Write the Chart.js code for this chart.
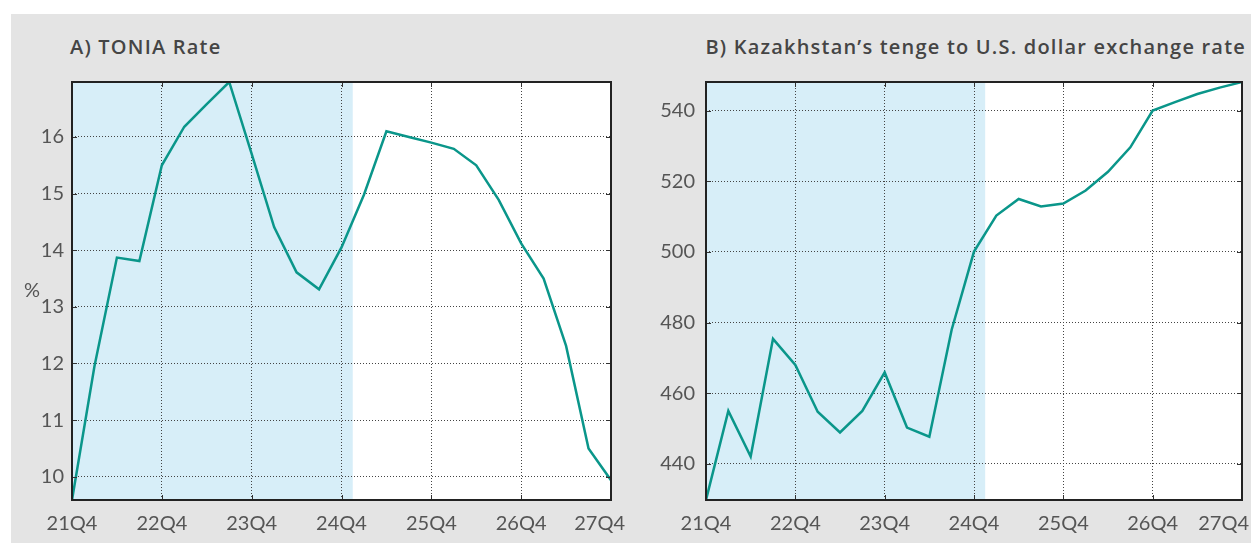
<!DOCTYPE html>
<html>
<head>
<meta charset="utf-8">
<script src="https://cdn.jsdelivr.net/npm/chart.js@4.4.1/dist/chart.umd.min.js"></script>
<style>
  html, body { margin: 0; padding: 0; background: #fff; }
  body { width: 1251px; height: 543px; position: relative; overflow: hidden; font-family: Lato, sans-serif; }
  #painel { position: absolute; left: 11px; top: 14px; width: 1240px; height: 529px; background: #e4e4e4; }
  .quadro { position: absolute; top: 0; }
  #quadroA { left: 0; }
  #quadroB { left: 616px; }
  .titulo { position: absolute; top: 19px; font-family: "Open Sans", sans-serif; font-weight: 600; font-size: 20px; letter-spacing: 1.2px; color: #454545; white-space: nowrap; }
  #tituloA { left: 59px; }
  #tituloB { right: 5px; }
</style>
</head>
<body>
<div id="painel">
  <div class="titulo" id="tituloA">A) TONIA Rate</div>
  <div class="titulo" id="tituloB">B) Kazakhstan’s tenge to U.S. dollar exchange rate</div>
  <canvas class="quadro" id="quadroA" width="616" height="529"></canvas>
  <canvas class="quadro" id="quadroB" width="624" height="529"></canvas>
</div>
<script>
// Trimestres do eixo X (21Q4 a 27Q4)
const trimestres = ['21Q4', '22Q1', '22Q2', '22Q3', '22Q4', '23Q1', '23Q2', '23Q3', '23Q4',
  '24Q1', '24Q2', '24Q3', '24Q4', '25Q1', '25Q2', '25Q3', '25Q4', '26Q1', '26Q2', '26Q3',
  '26Q4', '27Q1', '27Q2', '27Q3', '27Q4'];
const rotulosX = ['21Q4', '22Q4', '23Q4', '24Q4', '25Q4', '26Q4', '27Q4'];

// A) Taxa TONIA, %
const taxaTonia = [9.59, 11.95, 13.87, 13.81, 15.50, 16.18, 16.58, 16.97, 15.70,
  14.41, 13.61, 13.31, 14.05, 14.98, 16.10, 16.00, 15.90, 15.79, 15.50, 14.89,
  14.12, 13.50, 12.31, 10.50, 9.94];
const ticksTonia = [10, 11, 12, 13, 14, 15, 16];

// B) Tenge por dólar
const tengeDolar = [429.8, 455.0, 442.1, 475.4, 468.0, 454.8, 448.9, 455.0, 465.9,
  450.3, 447.7, 478.0, 500.1, 510.3, 515.0, 512.9, 513.7, 517.4, 522.7, 529.6,
  540.0, 542.4, 544.7, 546.5, 548.1];
const ticksTenge = [440, 460, 480, 500, 520, 540];

// Período sombreado: até metade do caminho entre 24Q4 e 25Q1
const fimSombra = 12.5;

const corLinha = '#0a968a';
const corTexto = '#555555';
const fonte = 'Lato, sans-serif';

// Fundo branco, sombra azul, moldura, rótulos do eixo X e unidade
const moldura = {
  id: 'moldura',
  beforeDraw(chart) {
    const { ctx, chartArea: a, scales: { x } } = chart;
    ctx.save();
    ctx.fillStyle = '#ffffff';
    ctx.fillRect(a.left, a.top, a.width, a.height);
    const xs = x.getPixelForValue(fimSombra);
    ctx.fillStyle = '#d7eef8';
    ctx.fillRect(a.left, a.top, xs - a.left, a.height);
    ctx.restore();
  },
  afterDraw(chart, args, opts) {
    const { ctx, chartArea: a, scales: { x, y } } = chart;
    ctx.save();
    // marcas pequenas nas bordas
    ctx.strokeStyle = '#333';
    ctx.lineWidth = 1;
    x.ticks.forEach(t => {
      const px = Math.round(x.getPixelForValue(t.value)) + 0.5;
      ctx.beginPath();
      ctx.moveTo(px, a.top); ctx.lineTo(px, a.top + 5);
      ctx.moveTo(px, a.bottom); ctx.lineTo(px, a.bottom - 5);
      ctx.stroke();
    });
    y.ticks.forEach(t => {
      const py = Math.round(y.getPixelForValue(t.value)) + 0.5;
      ctx.beginPath();
      ctx.moveTo(a.left, py); ctx.lineTo(a.left + 5, py);
      ctx.moveTo(a.right, py); ctx.lineTo(a.right - 5, py);
      ctx.stroke();
    });
    // moldura
    ctx.strokeStyle = '#222';
    ctx.lineWidth = 2;
    ctx.strokeRect(a.left, a.top, a.width, a.height);
    // rótulos do eixo X (o último encosta na borda)
    ctx.font = '20px ' + fonte;
    ctx.fillStyle = corTexto;
    ctx.textAlign = 'center';
    ctx.textBaseline = 'middle';
    x.ticks.forEach(t => {
      const txt = trimestres[t.value];
      const w = ctx.measureText(txt).width;
      let cx = x.getPixelForValue(t.value);
      cx = Math.min(cx, chart.width - w / 2 - 2);
      ctx.fillText(txt, cx, a.bottom + 24);
    });
    if (opts.unidade) {
      ctx.fillText(opts.unidade, a.left - 40, (a.top + a.bottom) / 2);
    }
    ctx.restore();
  }
};

function criarGrafico(id, valores, ticksY, larguraY, paddingY, paddingDir, unidade) {
  const ctx = document.getElementById(id).getContext('2d');
  const grade = { color: '#444', drawTicks: false, lineWidth: 1 };
  const borda = { display: false, dash: [1, 2] };
  return new Chart(ctx, {
    type: 'line',
    data: {
      datasets: [{
        data: valores.map((v, i) => ({ x: i, y: v })),
        borderColor: corLinha,
        borderWidth: 2.5,
        pointRadius: 0,
        tension: 0,
        fill: false
      }]
    },
    options: {
      responsive: false,
      animation: false,
      devicePixelRatio: 1,
      layout: { padding: { top: 68, right: paddingDir, bottom: 0, left: 0 } },
      plugins: {
        legend: { display: false },
        tooltip: { enabled: false },
        moldura: { unidade: unidade }
      },
      scales: {
        x: {
          type: 'linear',
          min: 0,
          max: trimestres.length - 1,
          afterBuildTicks: s => { s.ticks = rotulosX.map(r => ({ value: trimestres.indexOf(r) })); },
          afterFit: s => { s.height = 43; },
          ticks: { display: false },
          grid: grade,
          border: borda
        },
        y: {
          min: Math.min(...valores),
          max: Math.max(...valores),
          afterBuildTicks: s => { s.ticks = ticksY.map(v => ({ value: v })); },
          afterFit: s => { s.width = larguraY; },
          ticks: { color: corTexto, font: { family: fonte, size: 20 }, padding: paddingY },
          grid: grade,
          border: borda
        }
      }
    },
    plugins: [moldura]
  });
}

criarGrafico('quadroA', taxaTonia, ticksTonia, 61, 8, 16, '%');
criarGrafico('quadroB', tengeDolar, ticksTenge, 79, 11, 9, null);
</script>
</body>
</html>
